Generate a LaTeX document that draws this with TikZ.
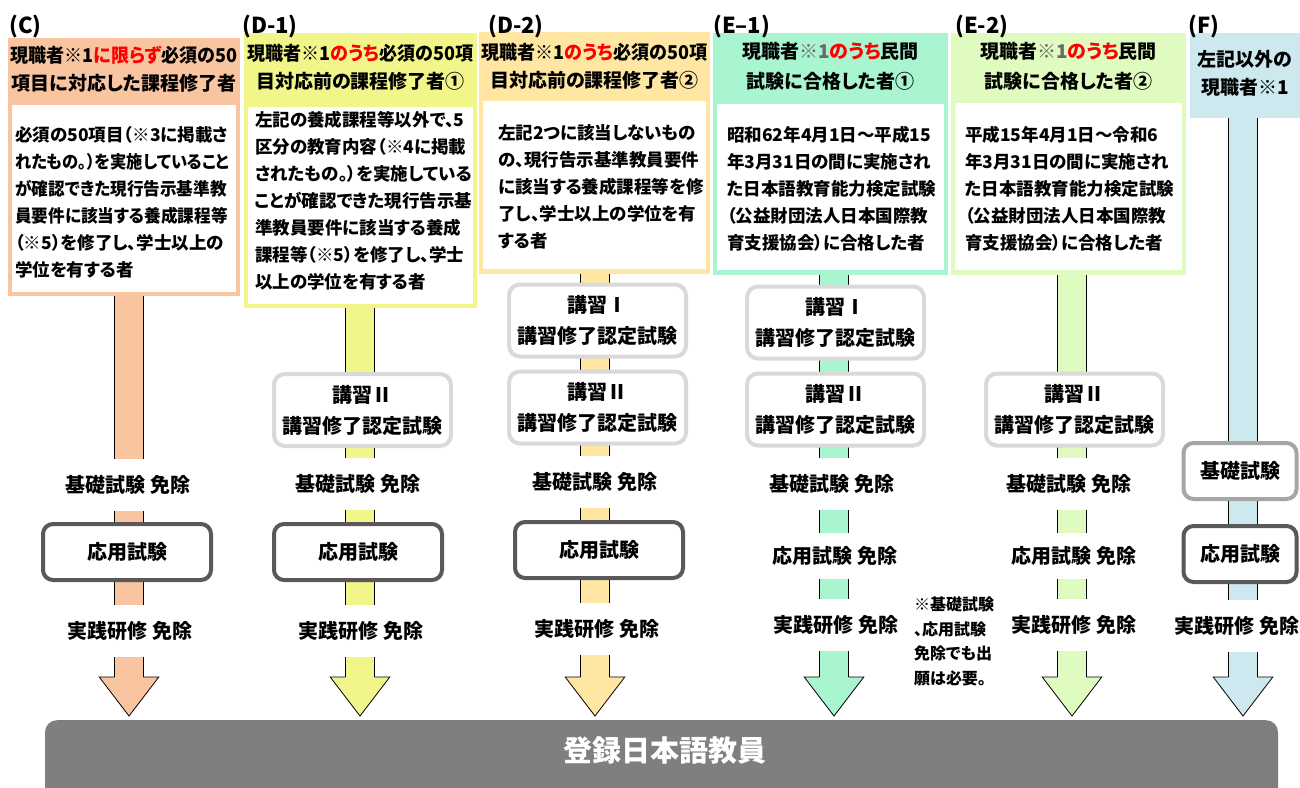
\documentclass[tikz,border=0pt]{standalone}
\usepackage{fontspec}
\setmainfont{Noto Sans CJK JP}[RawFeature=+palt]
\newfontfamily\narrowfont{Noto Sans CJK JP}[RawFeature=+palt, FakeStretch=0.95]
\newfontfamily\narrowerfont{Noto Sans CJK JP}[RawFeature=+palt, FakeStretch=0.93]
\usetikzlibrary{fit}
\definecolor{cC}{HTML}{F9C4A0}
\definecolor{cDa}{HTML}{F2F58A}
\definecolor{cDb}{HTML}{FFE7A3}
\definecolor{cEa}{HTML}{A8F5D0}
\definecolor{cEb}{HTML}{E0FBBF}
\definecolor{cF}{HTML}{CDE9EF}
\definecolor{lightbd}{HTML}{D9D9D9}
\definecolor{darkbd}{HTML}{595959}
\definecolor{midbd}{HTML}{A6A6A6}
\definecolor{barfill}{HTML}{7F7F7F}
\definecolor{notered}{HTML}{FF0000}
\definecolor{softgray}{HTML}{6A6A6A}
\tikzset{
  outerbox/.style={inner sep=0pt, draw=none},
  innerbox/.style={inner sep=0pt, fill=white, draw=none},
  hdrtext/.style={font=\fontsize{19}{28}\selectfont\bfseries, align=center, inner sep=0pt, anchor=north},
  bodytext/.style={font=\fontsize{17.5}{27}\selectfont\bfseries, align=left, inner sep=0pt, anchor=north west},
  lbl/.style={font=\fontsize{22}{24}\selectfont\bfseries, anchor=west, inner sep=0pt},
  stage/.style={font=\fontsize{20}{24}\selectfont\bfseries, fill=white, inner sep=0pt, minimum height=52pt, minimum width=136pt},
  lecture/.style={draw=lightbd, line width=4pt, rounded corners=11pt, fill=white, align=center, font=\fontsize{20}{31}\selectfont\bfseries, minimum width=177pt, minimum height=72pt, inner sep=0pt},
  exam/.style={draw=darkbd, line width=4pt, rounded corners=10pt, fill=white, font=\fontsize{20}{24}\selectfont\bfseries, minimum width=168pt, minimum height=56pt, inner sep=0pt},
  stem/.style={double distance=28pt, line width=0.8pt, draw=black},
  headfill/.style={draw=black, line width=0.8pt, line join=miter},
  notetext/.style={font=\fontsize{16}{24.5}\selectfont\bfseries, align=left, inner sep=0pt, anchor=north west},
}
\newcommand\myarrowhead[2]{\draw[headfill, fill=#2] (#1) ++(-14.4,0) -- ++(-15.4,0) -- ++(29.8,39) -- ++(29.8,-39) -- ++(-15.4,0);}
\begin{document}
\begin{tikzpicture}[x=1pt, y=-1pt]
\clip (0,0) rectangle (1300,787);
\fill[white] (0,0) rectangle (1300,787);

% ---------- header boxes ----------
\node[outerbox, fill=cC,  fit={(8,38) (240,296)}]    (hC)  {};
\node[outerbox, fill=cDa, fit={(244,33) (477,308)}]  (hDa) {};
\node[outerbox, fill=cDb, fit={(479,32) (710,274)}]  (hDb) {};
\node[outerbox, fill=cEa, fit={(713,33) (948,275)}]  (hEa) {};
\node[outerbox, fill=cEb, fit={(951,33) (1186,275)}] (hEb) {};
\node[outerbox, fill=cF,  fit={(1190,33) (1300,118)}] (hF) {};

\node[innerbox, fit={(12,105) (236,292)}]   (bC)  {};
\node[innerbox, fit={(248,107) (473,304)}]  (bDa) {};
\node[innerbox, fit={(483,101) (706,269)}]  (bDb) {};
\node[innerbox, fit={(717,104) (944,270)}]  (bEa) {};
\node[innerbox, fit={(955,103) (1182,270)}] (bEb) {};

% ---------- labels ----------
\node[lbl] (lC)  at (9,27)    {(C)};
\node[lbl] (lDa) at (242,27)  {(D-1)};
\node[lbl] (lDb) at (488,27)  {(D-2)};
\node[lbl] (lEa) at (713,27)  {(E–1)};
\node[lbl] (lEb) at (955,27)  {(E-2)};
\node[lbl] (lF)  at (1188,27) {(F)};

% ---------- header titles ----------
\node[hdrtext] (tC)  at (124,45.5)   {{\narrowfont 現職者※1{\color{notered}に限らず}必須の50}\\項目に対応した課程修了者};
\node[hdrtext] (tDa) at (360.5,43.5) {{\narrowfont 現職者※1{\color{notered}のうち}必須の50項}\\目対応前の課程修了者①};
\node[hdrtext] (tDb) at (594.5,42.5) {{\narrowfont 現職者※1{\color{notered}のうち}必須の50項}\\目対応前の課程修了者②};
\node[hdrtext, font=\fontsize{19}{30}\selectfont\bfseries] (tEa) at (830.5,42.5) {現職者{\color{softgray}※1}{\color{notered}のうち}民間\\試験に合格した者①};
\node[hdrtext, font=\fontsize{19}{30}\selectfont\bfseries] (tEb) at (1068.5,42.5) {現職者{\color{softgray}※1}{\color{notered}のうち}民間\\試験に合格した者②};
\node[hdrtext] (tF)  at (1245,50.5)  {左記以外の\\現職者※1};

% ---------- header bodies ----------
\node[bodytext] (xC) at (15,126.3) {必須の50項目（※3に掲載さ\\{\narrowerfont れたもの。）を実施していること}\\{\narrowfont が確認できた現行告示基準教}\\{\narrowfont 員要件に該当する養成課程等}\\（※5）を修了し、学士以上の\\学位を有する者};
\node[bodytext] (xDa) at (255,111.3) {左記の養成課程等以外で、5\\区分の教育内容（※4に掲載\\されたもの。）を実施している\\ことが確認できた現行告示基\\準教員要件に該当する養成\\課程等（※5）を修了し、学士\\以上の学位を有する者};
\node[bodytext] (xDb) at (498,124.3) {左記2つに該当しないもの\\の、現行告示基準教員要件\\に該当する養成課程等を修\\了し、学士以上の学位を有\\する者};
\node[bodytext] (xEa) at (727,126.3) {昭和62年4月1日～平成15\\年3月31日の間に実施され\\た日本語教育能力検定試験\\（公益財団法人日本国際教\\育支援協会）に合格した者};
\node[bodytext] (xEb) at (965,126.3) {平成15年4月1日～令和6\\年3月31日の間に実施され\\た日本語教育能力検定試験\\（公益財団法人日本国際教\\育支援協会）に合格した者};

% ---------- arrow coordinates ----------
\coordinate (aC)  at (129,677);
\coordinate (aDa) at (360,677);
\coordinate (aDb) at (595,677);
\coordinate (aEa) at (834,677);
\coordinate (aEb) at (1072,677);
\coordinate (aF)  at (1243,677);

% ---------- stems ----------
\draw[stem, double=cC]  (aC |- hC.south)   -- (aC);
\draw[stem, double=cDa] (aDa |- hDa.south) -- (aDa);
\draw[stem, double=cDb] (aDb |- hDb.south) -- (aDb);
\draw[stem, double=cEa] (aEa |- hEa.south) -- (aEa);
\draw[stem, double=cEb] (aEb |- hEb.south) -- (aEb);
\draw[stem, double=cF]  (aF |- hF.south)   -- (aF);

\myarrowhead{aC}{cC}
\myarrowhead{aDa}{cDa}
\myarrowhead{aDb}{cDb}
\myarrowhead{aEa}{cEa}
\myarrowhead{aEb}{cEb}
\myarrowhead{aF}{cF}

% ---------- lecture boxes ----------
\node[lecture] (kDa2) at (362.5,410) {講習Ⅱ\\講習修了認定試験};
\node[lecture] (kDb1) at (597.5,320.5) {講習Ⅰ\\講習修了認定試験};
\node[lecture] (kDb2) at (597.5,407.5) {講習Ⅱ\\講習修了認定試験};
\node[lecture] (kEa1) at (835.5,322.5) {講習Ⅰ\\講習修了認定試験};
\node[lecture] (kEa2) at (835.5,409.5) {講習Ⅱ\\講習修了認定試験};
\node[lecture] (kEb2) at (1074.5,409.5) {講習Ⅱ\\講習修了認定試験};

% ---------- stage texts ----------
\node[stage] (sC1)  at (128,485)  {基礎試験 免除};
\node[stage] (sC3)  at (130,631)  {実践研修 免除};
\node[stage] (sDa1) at (358,484)  {基礎試験 免除};
\node[stage] (sDa3) at (361,631)  {実践研修 免除};
\node[stage] (sDb1) at (595,482)  {基礎試験 免除};
\node[stage] (sDb3) at (597,629)  {実践研修 免除};
\node[stage] (sEa1) at (832,484)  {基礎試験 免除};
\node[stage, minimum height=46pt] (sEa2) at (835,556)  {応用試験 免除};
\node[stage] (sEa3) at (836,625)  {実践研修 免除};
\node[stage] (sEb1) at (1069,484) {基礎試験 免除};
\node[stage, minimum height=46pt] (sEb2) at (1074,556) {応用試験 免除};
\node[stage] (sEb3) at (1074,625) {実践研修 免除};
\node[stage, minimum width=124pt] (sF3)  at (1237,626) {実践研修 免除};

% ---------- exam boxes ----------
\node[exam] (eC)  at (127,552)  {応用試験};
\node[exam] (eDa) at (358,552)  {応用試験};
\node[exam] (eDb) at (599,550)  {応用試験};
\node[exam, draw=midbd, minimum width=113pt] (eF1) at (1240,471) {基礎試験};
\node[exam, minimum width=113pt] (eF2) at (1240,554) {応用試験};

% ---------- note ----------
\node[notetext] (note) at (914,597) {※基礎試験\\、応用試験\\免除でも出\\願は必要。};

% ---------- bottom bar ----------
\node[fill=barfill, rounded corners=12pt, minimum width=1233pt, minimum height=100pt, anchor=north, inner sep=0pt] (reg) at (661.5,720) {};
\node[font=\fontsize{29}{32}\selectfont\bfseries, text=white, inner sep=0pt] (regtext) at (665,751) {登録日本語教員};
\end{tikzpicture}
\end{document}
